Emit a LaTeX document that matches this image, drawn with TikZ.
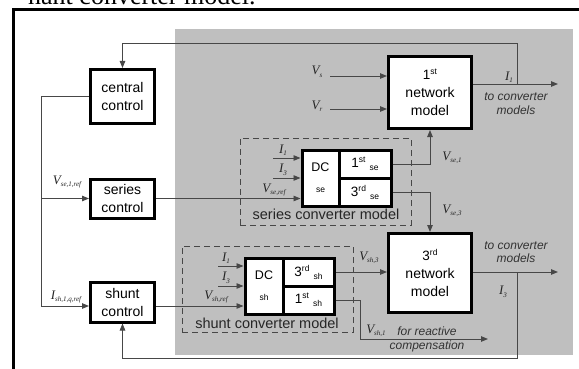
\documentclass[tikz,border=0pt]{standalone}
\usepackage{fontspec}
\setmainfont{Liberation Sans}
\newfontfamily\tnr{Liberation Serif}
\usetikzlibrary{arrows.meta,calc}
\newcommand\mv[2]{{\tnr\itshape\fontsize{13}{13}\selectfont #1}\raisebox{-2.5pt}{\tnr\itshape\fontsize{7}{7}\selectfont #2}}
\newcommand\ord[2]{{\fontsize{13.5}{13.5}\selectfont #1}\raisebox{5pt}{\fontsize{8.5}{8.5}\selectfont #2}}
\newcommand\cellt[3]{\ord{#1}{#2}\hspace{4pt}\raisebox{-3pt}{\fontsize{8.5}{8.5}\selectfont #3}}
\begin{document}
\begin{tikzpicture}[x=1pt,y=-1pt,
  box/.style={draw=black, line width=3pt, fill=white, align=center, inner sep=0pt, font=\fontsize{14}{18}\selectfont},
  cell/.style={draw=black, line width=3pt, fill=white, align=center, inner sep=0pt},
  wire/.style={draw=black!72, line width=0.9pt},
  arr/.style={wire, -{Triangle[length=7pt,width=5.5pt]}},
  dashbox/.style={draw=black!72, line width=1pt, dash pattern=on 6pt off 4pt, inner sep=0pt},
  note/.style={font=\fontsize{12}{13.5}\selectfont\itshape, text=black!80, align=center, inner sep=0pt},
  lab/.style={inner sep=0pt, text=black!85},
  mlab/.style={font=\fontsize{14.5}{14.5}\selectfont, text=black!85, inner sep=0pt}]
\clip (0,0) rectangle (579,369);
\useasboundingbox (0,0) rectangle (579,369);
\fill[white] (0,0) rectangle (579,369);
\node[anchor=base west, font=\tnr\fontsize{26}{26}\selectfont, inner sep=0pt] (cap) at (28,5) {nant converter model.};
\fill[gray!50] (175,29) rectangle (573,355);
\draw[line width=3pt] (13,369) -- (13,10) -- (579,10);

% dashed groups
\node[dashbox, minimum width=171pt, minimum height=87pt] (scm) at (325.5,181.5) {};
\node[mlab] (scml) at (326,214) {series converter model};
\node[dashbox, minimum width=171pt, minimum height=86pt] (shm) at (267.5,289) {};
\node[mlab] (shml) at (267,323) {shunt converter model};

% control boxes
\node[box, minimum width=64pt, minimum height=54pt] (cc) at (122.5,96.5) {central\\control};
\node[box, minimum width=64pt, minimum height=39pt] (sc) at (122.5,198.5) {series\\control};
\node[box, minimum width=64pt, minimum height=40pt] (shc) at (122.5,302) {shunt\\control};

% network models
\node[box, minimum width=83pt, minimum height=72pt] (nm1) at (430,92.5) {\ord{1}{st}\\network\\model};
\node[box, minimum width=83pt, minimum height=79pt] (nm3) at (430,273) {\ord{3}{rd}\\network\\model};

% series converter cells
\node[cell, minimum width=37pt, minimum height=56pt] (dcse) at (320.5,178) {{\fontsize{12.5}{12.5}\selectfont DC}\\[9pt]{\fontsize{8.5}{8.5}\selectfont se}};
\node[cell, minimum width=52pt, minimum height=28pt] (se1) at (365,164) {\cellt{1}{st}{se}};
\node[cell, minimum width=52pt, minimum height=28pt] (se3) at (365,192) {\cellt{3}{rd}{se}};

% shunt converter cells
\node[cell, minimum width=38pt, minimum height=56pt] (dcsh) at (264,286) {{\fontsize{12.5}{12.5}\selectfont DC}\\[9pt]{\fontsize{8.5}{8.5}\selectfont sh}};
\node[cell, minimum width=51pt, minimum height=28pt] (sh3) at (308.5,272) {\cellt{3}{rd}{sh}};
\node[cell, minimum width=51pt, minimum height=28pt] (sh1) at (308.5,300) {\cellt{1}{st}{sh}};

% coordinates
\coordinate (bt) at (41,96.5);
\coordinate (bb) at (41,306);
\coordinate (i1s) at (273,158);
\coordinate (i3s) at (273,178);
\coordinate (i1h) at (218,266);
\coordinate (i3h) at (218,286);
\coordinate (vs) at (330,76);
\coordinate (vr) at (330,109);
\coordinate (i1o) at (558,84);
\coordinate (j1) at (517,84);
\coordinate (ft) at (517,43);
\coordinate (i3o) at (558,272);
\coordinate (j3) at (517,272);
\coordinate (fb) at (517,358);
\coordinate (v1b) at (360,339);
\coordinate (v1c) at (488,339);

% connectors
\draw[wire] (cc.west) -- (bt) -- (bb);
\draw[arr] (bb) -- (bb -| shc.west);
\draw[arr] (sc.west -| bt) -- (sc.west);
\draw[arr] (sc.east) -- (sc.east -| dcse.west);
\draw[arr] (i1s) -- (i1s -| dcse.west);
\draw[arr] (i3s) -- (i3s -| dcse.west);
\draw[arr] (bb -| shc.east) -- (bb -| dcsh.west);
\draw[arr] (i1h) -- (i1h -| dcsh.west);
\draw[arr] (i3h) -- (i3h -| dcsh.west);
\draw[arr] (se1.east) -| (nm1.south);
\draw[arr] (se3.east) -| (nm3.north);
\draw[arr] (sh3.east) -- (sh3.east -| nm3.west);
\draw[arr] (sh1.east) -| (v1b) -- (v1c);
\draw[arr] (vs) -- (vs -| nm1.west);
\draw[arr] (vr) -- (vr -| nm1.west);
\draw[arr] (i1o -| nm1.east) -- (i1o);
\draw[arr] (j1) -- (ft) -| (cc.north);
\draw[arr] (i3o -| nm3.east) -- (i3o);
\draw[arr] (j3) -- (fb) -| (shc.south);

% labels
\node[lab] (lvs) at (317,72) {\mv{V}{s}};
\node[lab] (lvr) at (317,106) {\mv{V}{r}};
\node[lab] (li1) at (509,77) {\mv{I}{1}};
\node[note] (n1) at (516,103.5) {to converter\\models};
\node[lab] (lvse1) at (452,158) {\mv{V}{se,1}};
\node[lab] (lvse3) at (452,211) {\mv{V}{se,3}};
\node[note] (n3) at (516,252) {to converter\\models};
\node[lab] (li3) at (503,292) {\mv{I}{3}};
\node[lab] (lvsh3) at (369,258) {\mv{V}{sh,3}};
\node[lab] (lvsh1) at (376,331) {\mv{V}{sh,1}};
\node[note] (nr) at (427,339.5) {for reactive\\compensation};
\node[lab] (lvseref) at (67,182) {\mv{V}{se,1,ref}};
\node[lab] (lishref) at (66,297) {\mv{I}{sh,1,q,ref}};
\node[lab] (a1) at (283,150) {\mv{I}{1}};
\node[lab] (a3) at (283,170) {\mv{I}{3}};
\node[lab] (av) at (274,190) {\mv{V}{se,ref}};
\node[lab] (b1) at (226,258) {\mv{I}{1}};
\node[lab] (b3) at (226,278) {\mv{I}{3}};
\node[lab] (bv) at (216,297) {\mv{V}{sh,ref}};
\end{tikzpicture}
\end{document}
